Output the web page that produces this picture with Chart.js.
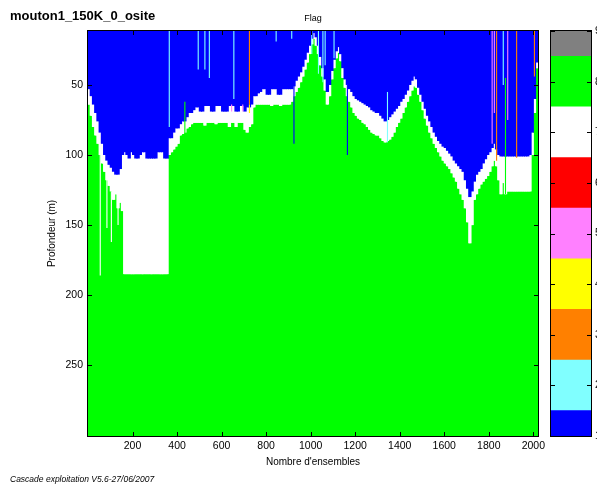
<!DOCTYPE html>
<html>
<head>
<meta charset="utf-8">
<script src="https://cdn.jsdelivr.net/npm/chart.js@4.4.0/dist/chart.umd.min.js"></script>
<style>
  html, body { margin: 0; padding: 0; background: #fff; overflow: hidden; width: 597px; height: 489px; }
  #wrap { position: relative; width: 597px; height: 489px; overflow: hidden; }
  #main { position: absolute; left: 0; top: 0; }
  #scale { position: absolute; left: 545px; top: 0; }
  .txt { position: absolute; font-family: "Liberation Sans", Arial, sans-serif; color: #000; white-space: nowrap; }
</style>
</head>
<body>
<div id="wrap">
  <canvas id="main" width="597" height="489"></canvas>
  <canvas id="scale" width="80" height="489"></canvas>
  <div class="txt" style="left:10px; top:8px; font-size:13px; font-weight:bold;">mouton1_150K_0_osite</div>
  <div class="txt" style="left:283px; width:60px; top:13px; font-size:9px; text-align:center;">Flag</div>
  <div class="txt" style="left:10px; top:474px; font-size:8.5px; font-style:italic;">Cascade exploitation V5.6-27/06/2007</div>
</div>
<script>
// ---- Flag codes and their colours (1..9)
const flagValues = [1, 2, 3, 4, 5, 6, 7, 8, 9];
const flagColors = ['#0000ff', '#80ffff', '#ff8000', '#ffff00', '#ff80ff', '#ff0000', '#ffffff', '#00ff00', '#808080'];

// ---- Axes
const DEPTH_TOP = 11.5;
const DEPTH_BOTTOM = 300.5;
const ENS_MIN = 0;
const ENS_MAX = 2021;
const depthTicks = [50, 100, 150, 200, 250];
const ensembleTicks = [200, 400, 600, 800, 1000, 1200, 1400, 1600, 1800, 2000];

// ---- Ensemble columns (groups of 10 ensembles, centre of each group)
const COL_FIRST = 5;
const COL_STEP = 10;

// Depth (m) where flag 1 (blue) ends in each column
const blueBottom = [
  53, 58, 64, 70, 76, 84, 92, 100, 104, 107,
  109, 112, 114, 114, 110, 100, 98, 100, 102.5, 98,
  100, 102.5, 102.5, 100, 98, 98, 102.5, 102.5, 102.5, 102.5,
  102.5, 98, 98, 98, 102.5, 102.5, 88, 88, 84, 81,
  81, 78, 76, 76, 73, 70, 70, 68, 66, 66,
  69, 69, 65, 65, 65, 69, 69, 65, 65, 65,
  69, 69, 69, 65, 65, 65, 69, 69, 65, 65,
  69, 66, 66, 64, 58, 58, 56, 55, 53, 53,
  57, 57, 53, 53, 53, 57, 57, 53, 53, 53,
  53, 53, 51, 47, 44, 41, 37, 32, 27, 22,
  17, 13, 16, 22, 30, 38, 46, 55, 50, 40,
  32, 26, 23, 28, 38, 46, 50, 53, 55, 58,
  60, 61, 62, 63, 64, 65, 66, 68, 69, 70,
  70, 72, 74, 76, 75, 73, 71, 69, 67, 65,
  62, 60, 57, 54, 50, 47, 44, 46, 52, 57,
  62, 67, 72, 76, 80, 84, 87, 90, 92, 94,
  95, 97, 99, 101, 104, 106, 108, 110, 112, 118,
  124, 130, 126, 119, 114, 112, 110, 106, 103, 100,
  98, 95, 92, 96, 100, 101, 101, 101, 101, 101,
  101, 101, 101, 101, 101, 101, 101, 101, 100, 84, 60, 34
];

// Depth (m) where flag 7 (white) ends and flag 8 (green) starts
const greenTop = [
  64, 72, 80, 86, 92, 100, 106, 112, 118, 122,
  126, 132, 128, 138, 134, 140, 185, 185, 185, 185,
  185, 185, 185, 185, 185, 185, 185, 185, 185, 185,
  185, 185, 185, 185, 185, 185, 100, 98, 96, 94,
  92, 86, 85, 84, 81, 80, 78, 77, 77, 77,
  77, 77, 79, 77, 77, 77, 77, 78, 77, 77,
  77, 77, 77, 80, 77, 77, 80, 77, 77, 77,
  82, 84, 80, 78, 66, 64, 64, 64, 64, 64,
  64, 64, 65, 64, 64, 64, 65, 64, 64, 64,
  64, 62, 58, 55, 52, 48, 44, 39, 34, 28,
  21, 17, 22, 28, 36, 44, 54, 64, 58, 46,
  38, 31, 27, 33, 45, 52, 58, 62, 66, 70,
  72, 74, 75, 77, 78, 80, 82, 84, 85, 86,
  86, 88, 90, 91, 90, 89, 87, 84, 80, 77,
  74, 70, 66, 62, 58, 54, 51, 52, 57, 62,
  68, 74, 79, 84, 88, 92, 95, 98, 101, 104,
  106, 108, 110, 113, 116, 119, 124, 128, 132, 138,
  148, 163, 150, 132, 128, 124, 121, 119, 117, 115,
  112, 108, 104, 108, 118, 128, 120, 128, 126, 126,
  126, 126, 126, 126, 126, 126, 126, 126, 126, 100, 70, 38
];

// Isolated single-ensemble flags (thin vertical streaks)
const spikeEnsembles = [55, 85, 105, 135, 365, 435, 495, 525, 545, 645, 655, 695, 725, 725, 845, 915, 925,
  1005, 1035, 1055, 1065, 1105, 1165, 1345, 1815, 1825, 1835, 1865, 1875, 1885, 1925, 2005];
const spikeTop = [92, 116, 126, 130, 11.5, 62, 11.5, 11.5, 11.5, 64, 11.5, 64, 11.5, 64, 11.5, 11.5, 50,
  11.5, 11.5, 11.5, 11.5, 11.5, 50, 55, 11.5, 11.5, 11.5, 11.5, 45, 11.5, 11.5, 11.5];
const spikeBottom = [186, 152, 162, 150, 80, 86, 39, 39, 45, 69, 60, 69, 64, 70, 19, 17, 92,
  28, 42, 48, 36, 31, 100, 91, 92, 70, 104, 50, 128, 75, 102, 44];
const spikeFlags = [7, 7, 7, 7, 2, 8, 2, 2, 2, 5, 2, 5, 3, 4, 2, 2, 1,
  2, 2, 2, 2, 2, 1, 2, 5, 5, 3, 2, 8, 5, 3, 3];

const ensembles = blueBottom.map((_, i) => COL_FIRST + i * COL_STEP);
const colorOf = f => flagColors[flagValues.indexOf(f)];

// Box with inward tick marks on every side of the plot area
const boxTicks = {
  id: 'boxTicks',
  afterDatasetsDraw(chart, args, opts) {
    const { ctx, chartArea: a } = chart;
    const len = opts.len || 4;
    ctx.save();
    ctx.strokeStyle = '#000';
    ctx.lineWidth = 1;
    ctx.beginPath();
    for (const id of ['x', 'y']) {
      const s = chart.scales[id];
      if (!s || !opts[id]) continue;
      for (const t of s.ticks) {
        const p = Math.round(s.getPixelForValue(t.value)) + 0.5;
        if (s.isHorizontal()) {
          ctx.moveTo(p, a.bottom); ctx.lineTo(p, a.bottom - len);
          ctx.moveTo(p, a.top); ctx.lineTo(p, a.top + len);
        } else {
          ctx.moveTo(a.left, p); ctx.lineTo(a.left + len, p);
          ctx.moveTo(a.right, p); ctx.lineTo(a.right - len, p);
        }
      }
    }
    ctx.stroke();
    ctx.strokeRect(Math.round(a.left) - 0.5, Math.round(a.top) - 0.5,
      Math.round(a.right - a.left) + 1, Math.round(a.bottom - a.top) + 1);
    ctx.restore();
  }
};

const tickFont = { family: '"Liberation Sans", Arial, sans-serif', size: 10.5 };
const titleFont = { family: '"Liberation Sans", Arial, sans-serif', size: 10 };
const barCommon = { grouped: false, categoryPercentage: 1, borderWidth: 0, borderSkipped: false };
const plainNumber = v => String(v);
// columns overlap by about one pixel so neighbouring cells leave no seams
const COLUMN_FILL = 1.5;

new Chart(document.getElementById('main'), {
  type: 'bar',
  data: {
    datasets: [
      Object.assign({
        label: 'spikes',
        data: spikeEnsembles.map((x, i) => ({ x, y: [spikeTop[i], spikeBottom[i]] })),
        backgroundColor: spikeFlags.map(colorOf),
        barPercentage: 0.5
      }, barCommon),
      Object.assign({
        label: 'flag 1',
        data: ensembles.map((x, i) => ({ x, y: [DEPTH_TOP, blueBottom[i]] })),
        backgroundColor: colorOf(1),
        barPercentage: COLUMN_FILL
      }, barCommon),
      Object.assign({
        label: 'flag 7',
        data: ensembles.map((x, i) => ({ x, y: [blueBottom[i], greenTop[i]] })),
        backgroundColor: colorOf(7),
        barPercentage: COLUMN_FILL
      }, barCommon),
      Object.assign({
        label: 'flag 8',
        data: ensembles.map((x, i) => ({ x, y: [greenTop[i], DEPTH_BOTTOM] })),
        backgroundColor: colorOf(8),
        barPercentage: COLUMN_FILL
      }, barCommon)
    ]
  },
  options: {
    responsive: false,
    animation: false,
    devicePixelRatio: 1,
    layout: { padding: { left: 0, top: 31, right: 59, bottom: 20 } },
    plugins: { legend: { display: false }, tooltip: { enabled: false }, boxTicks: { x: true, y: true } },
    scales: {
      x: {
        type: 'linear', min: ENS_MIN, max: ENS_MAX, offset: false,
        afterBuildTicks: s => { s.ticks = ensembleTicks.map(v => ({ value: v })); },
        afterFit: s => { s.height = 33; },
        grid: { display: false, drawTicks: false, offset: false },
        border: { display: false },
        ticks: { padding: 4, color: '#000', font: tickFont, maxRotation: 0, autoSkip: false, callback: plainNumber },
        title: { display: true, text: "Nombre d'ensembles", color: '#000', font: titleFont, padding: { top: 0, bottom: 1 } }
      },
      y: {
        type: 'linear', reverse: true, min: DEPTH_TOP, max: DEPTH_BOTTOM,
        afterBuildTicks: s => { s.ticks = depthTicks.map(v => ({ value: v })); },
        afterFit: s => { s.width = 88; },
        grid: { display: false, drawTicks: false },
        border: { display: false },
        ticks: { padding: 5, color: '#000', font: tickFont, callback: plainNumber },
        title: { display: true, text: 'Profondeur (m)', color: '#000', font: titleFont, padding: { top: 46, bottom: 0 } }
      }
    }
  },
  plugins: [boxTicks]
});

// Colour scale for the flag codes
new Chart(document.getElementById('scale'), {
  type: 'bar',
  data: {
    labels: [''],
    datasets: flagValues.map((v, i) => Object.assign({
      label: String(v),
      data: [[Math.max(flagValues[0], v - 0.5), Math.min(flagValues[flagValues.length - 1], v + 0.5)]],
      backgroundColor: flagColors[i],
      barPercentage: 1
    }, barCommon))
  },
  options: {
    responsive: false,
    animation: false,
    devicePixelRatio: 1,
    layout: { padding: { left: 6, top: 31, right: 0, bottom: 53 } },
    plugins: { legend: { display: false }, tooltip: { enabled: false }, boxTicks: { y: true } },
    scales: {
      x: { display: false },
      y: {
        position: 'right', min: 1, max: 9,
        afterBuildTicks: s => { s.ticks = flagValues.map(v => ({ value: v })); },
        afterFit: s => { s.width = 34; },
        grid: { display: false, drawTicks: false },
        border: { display: false },
        ticks: { padding: 4, color: '#000', font: tickFont, callback: plainNumber }
      }
    }
  },
  plugins: [boxTicks]
});
</script>
</body>
</html>
